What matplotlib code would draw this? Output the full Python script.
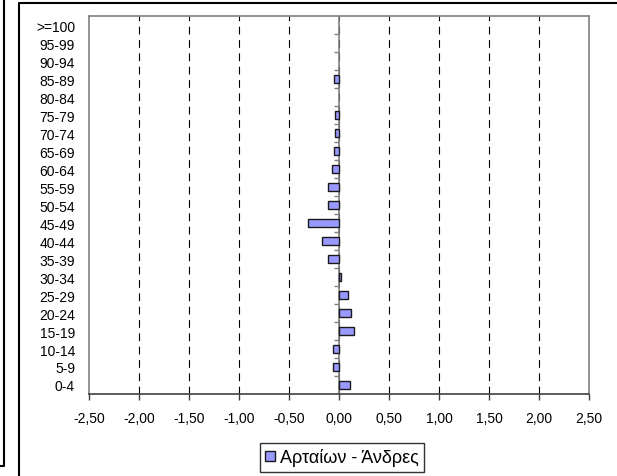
import matplotlib.pyplot as plt
from matplotlib.lines import Line2D

plt.rcParams['font.family'] = ['Liberation Sans', 'DejaVu Sans']

age_groups = ['0-4', '5-9', '10-14', '15-19', '20-24', '25-29', '30-34',
              '35-39', '40-44', '45-49', '50-54', '55-59', '60-64', '65-69',
              '70-74', '75-79', '80-84', '85-89', '90-94', '95-99', '>=100']
men_diff = [0.107, -0.057, -0.057, 0.15, 0.123, 0.093, 0.023,
            -0.113, -0.167, -0.307, -0.113, -0.113, -0.07, -0.055,
            -0.045, -0.045, 0.0, -0.055, 0.0, 0.0, 0.0]
x_ticks = [-2.5, -2.0, -1.5, -1.0, -0.5, 0.0, 0.5, 1.0, 1.5, 2.0, 2.5]
series_name = 'Αρταίων - Άνδρες'

W, H = 617, 477
fig = plt.figure(figsize=(W / 100, H / 100), dpi=100)
ax = fig.add_axes([89 / W, 1 - 395 / H, 500 / W, (395 - 17) / H])

pos = range(len(age_groups))
edges = ['#1a1a1a' if v != 0 else 'none' for v in men_diff]
ax.barh(pos, men_diff, height=0.42, color='#9999FF', edgecolor=edges,
        linewidth=1.0, zorder=3)

ax.set_xlim(-2.5, 2.5)
ax.set_ylim(-0.5, len(age_groups) - 0.5)
ax.set_xticks(x_ticks)
ax.set_xticklabels([('%.2f' % v).replace('.', ',') for v in x_ticks])
ax.set_yticks(list(pos))
ax.set_yticklabels(age_groups)
ax.tick_params(axis='y', length=0, pad=10, labelsize=10)
ax.tick_params(axis='x', length=4, width=1, color='#404040', pad=8,
               labelsize=10, direction='out')

for v in x_ticks[1:-1]:
    ax.axvline(v, color='black', lw=0.8, ls=(0, (7, 5)), zorder=1)

# category axis drawn at zero, with ticks between categories
ax.axvline(0, color='#808080', lw=1.2, zorder=2)
bounds = [i - 0.5 for i in range(1, len(age_groups))]
ax.hlines(bounds, -0.05, 0, color='#808080', lw=1.0, zorder=2)

for side in ['left', 'top', 'right']:
    ax.spines[side].set_color('#808080')
    ax.spines[side].set_linewidth(1.2)
ax.spines['bottom'].set_color('#404040')
ax.spines['bottom'].set_linewidth(1.2)

handle = Line2D([], [], marker='s', ls='none', markersize=7,
                markerfacecolor='#9999FF', markeredgecolor='#1a1a1a',
                markeredgewidth=1.0)
leg = fig.legend([handle], [series_name], loc='center',
                 bbox_to_anchor=(342 / W, 1 - 458.5 / H), fontsize=13,
                 frameon=True, fancybox=False, edgecolor='black',
                 handlelength=0.6, handletextpad=0.25, borderpad=0.3,
                 borderaxespad=0)
leg.get_frame().set_linewidth(1.0)

# surrounding chart frame and edge of the neighbouring chart
fig.add_artist(Line2D([19 / W, 19 / W, 1], [0, 1 - 4 / H, 1 - 4 / H],
                      transform=fig.transFigure, color='black', lw=1.5))
fig.add_artist(Line2D([0, 4 / W, 4 / W], [1 - 467 / H, 1 - 467 / H, 1],
                      transform=fig.transFigure, color='black', lw=1.5))

fig.savefig('out.png', dpi=100)
